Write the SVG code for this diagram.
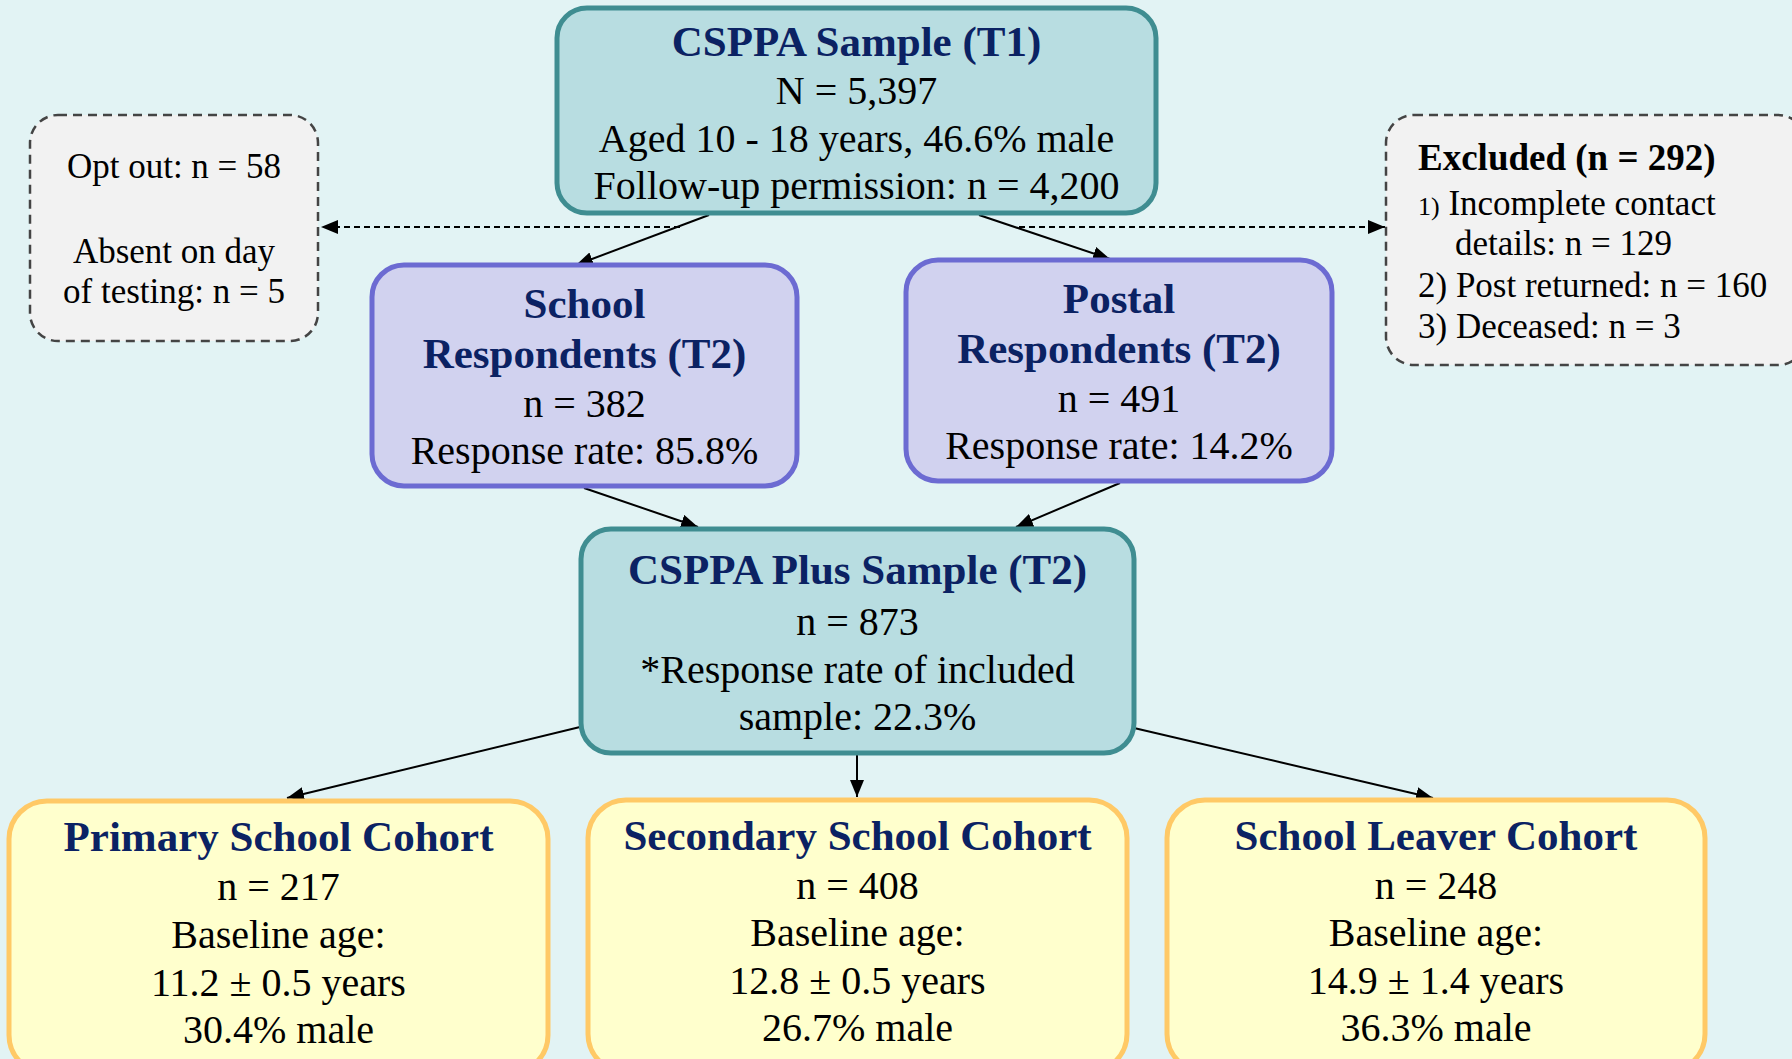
<svg xmlns="http://www.w3.org/2000/svg" width="1792" height="1059" viewBox="0 0 1792 1059">
<defs>
<style>
text{font-family:"Liberation Serif","Times New Roman",serif;fill:#000;}
.c{text-anchor:middle;}
.b{font-size:40px;}
.h{font-size:43px;font-weight:bold;fill:#0b2263;}
.s{font-size:35px;}
.hs{font-size:37px;font-weight:bold;}
.teal{fill:#b8dde1;stroke:#3f8d91;stroke-width:5;}
.purp{fill:#d1d2ef;stroke:#6c6bd2;stroke-width:5;}
.yel{fill:#ffffcd;stroke:#ffc966;stroke-width:5;}
.grey{fill:#f2f2f2;stroke:#444;stroke-width:2.5;stroke-dasharray:9,6;}
.ln{stroke:#000;stroke-width:2;fill:none;marker-end:url(#ah);}
.dl{stroke:#000;stroke-width:2;fill:none;stroke-dasharray:6,4;marker-end:url(#ah);}
</style>
<marker id="ah" markerUnits="userSpaceOnUse" markerWidth="18" markerHeight="14" refX="17" refY="7" orient="auto">
<path d="M0,0 L17,7 L0,14 z" fill="#000"/>
</marker>
</defs>
<rect width="1792" height="1059" fill="#e2f3f4"/>

<g id="connectors">
<line class="ln" x1="709" y1="215" x2="576" y2="265"/>
<line class="ln" x1="979" y1="215" x2="1110" y2="259"/>
<line class="dl" x1="680" y1="227" x2="321" y2="227"/>
<line class="dl" x1="1019" y1="227" x2="1385" y2="227"/>
<line class="ln" x1="584" y1="488" x2="698" y2="527"/>
<line class="ln" x1="1120" y1="483" x2="1016" y2="527"/>
<line class="ln" x1="580" y1="727" x2="287" y2="798"/>
<line class="ln" x1="857" y1="755" x2="857" y2="797"/>
<line class="ln" x1="1134" y1="728" x2="1433" y2="798"/>
</g>

<g id="node-t1">
<rect class="teal" x="557" y="8" width="599" height="205" rx="30"/>
<text class="c h" x="856.5" y="56">CSPPA Sample (T1)</text>
<text class="c b" x="856.5" y="104">N = 5,397</text>
<text class="c b" x="856.5" y="152">Aged 10 - 18 years, 46.6% male</text>
<text class="c b" x="856.5" y="199">Follow-up permission: n = 4,200</text>
</g>

<g id="node-optout">
<rect class="grey" x="30" y="115" width="288" height="226" rx="28"/>
<text class="c s" x="174" y="178">Opt out: n = 58</text>
<text class="c s" x="174" y="263">Absent on day</text>
<text class="c s" x="174" y="303">of testing: n = 5</text>
</g>

<g id="node-excluded">
<rect class="grey" x="1386" y="115" width="420" height="250" rx="28"/>
<text class="hs" x="1418" y="170">Excluded (n = 292)</text>
<text class="s" x="1418" y="215"><tspan font-size="26">1)</tspan> Incomplete contact</text>
<text class="s" x="1455" y="255">details: n = 129</text>
<text class="s" x="1418" y="297">2) Post returned: n = 160</text>
<text class="s" x="1418" y="338">3) Deceased: n = 3</text>
</g>

<g id="node-school">
<rect class="purp" x="372" y="265" width="425" height="221" rx="32"/>
<text class="c h" x="584.5" y="318">School</text>
<text class="c h" x="584.5" y="368">Respondents (T2)</text>
<text class="c b" x="584.5" y="417">n = 382</text>
<text class="c b" x="584.5" y="464">Response rate: 85.8%</text>
</g>

<g id="node-postal">
<rect class="purp" x="906" y="260" width="426" height="221" rx="32"/>
<text class="c h" x="1119" y="313">Postal</text>
<text class="c h" x="1119" y="363">Respondents (T2)</text>
<text class="c b" x="1119" y="412">n = 491</text>
<text class="c b" x="1119" y="459">Response rate: 14.2%</text>
</g>

<g id="node-plus">
<rect class="teal" x="581" y="529" width="553" height="224" rx="30"/>
<text class="c h" x="857.5" y="584">CSPPA Plus Sample (T2)</text>
<text class="c b" x="857.5" y="635">n = 873</text>
<text class="c b" x="857.5" y="683">*Response rate of included</text>
<text class="c b" x="857.5" y="730">sample: 22.3%</text>
</g>

<g id="node-primary">
<rect class="yel" x="9" y="801" width="539" height="272" rx="38"/>
<text class="c h" x="278.5" y="851">Primary School Cohort</text>
<text class="c b" x="278.5" y="900">n = 217</text>
<text class="c b" x="278.5" y="948">Baseline age:</text>
<text class="c b" x="278.5" y="996">11.2 ± 0.5 years</text>
<text class="c b" x="278.5" y="1043">30.4% male</text>
</g>

<g id="node-secondary">
<rect class="yel" x="588" y="800" width="539" height="272" rx="38"/>
<text class="c h" x="857.5" y="850">Secondary School Cohort</text>
<text class="c b" x="857.5" y="899">n = 408</text>
<text class="c b" x="857.5" y="946">Baseline age:</text>
<text class="c b" x="857.5" y="994">12.8 ± 0.5 years</text>
<text class="c b" x="857.5" y="1041">26.7% male</text>
</g>

<g id="node-leaver">
<rect class="yel" x="1167" y="800" width="538" height="272" rx="38"/>
<text class="c h" x="1436" y="850">School Leaver Cohort</text>
<text class="c b" x="1436" y="899">n = 248</text>
<text class="c b" x="1436" y="946">Baseline age:</text>
<text class="c b" x="1436" y="994">14.9 ± 1.4 years</text>
<text class="c b" x="1436" y="1041">36.3% male</text>
</g>
</svg>
